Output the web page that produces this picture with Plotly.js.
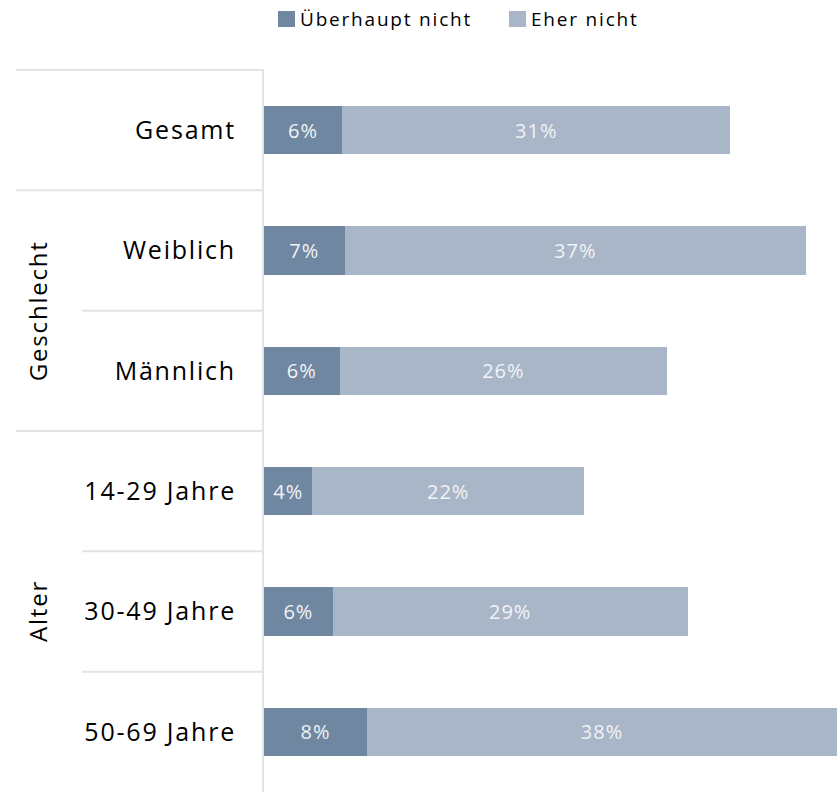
<!DOCTYPE html>
<html>
<head>
<meta charset="utf-8">
<script src="https://cdn.plot.ly/plotly-3.0.1.min.js"></script>
<style>
  html, body { margin: 0; padding: 0; background: #ffffff; }
  #chart { width: 837px; height: 792px; }
  text { letter-spacing: 1.8px; }
  text.bartext { letter-spacing: 1px; }
</style>
</head>
<body>
<div id="chart"></div>
<script>
// ---- data ----
var categories = ['Gesamt', 'Weiblich', 'Männlich', '14-29 Jahre', '30-49 Jahre', '50-69 Jahre'];
var seriesNames = ['Überhaupt nicht', 'Eher nicht'];
var ueberhauptNicht = [6.3, 6.5, 6.1, 3.9, 5.55, 8.3];
var eherNicht = [31.3, 37.2, 26.4, 21.9, 28.6, 37.9];
var groupNames = ['Geschlecht', 'Alter'];
var groupRows = [[1, 2], [3, 5]];          // first and last category index of each group
var mainSeparators = [0, 1, 3];            // row boundaries that span the full label column
var subSeparators = [2, 4, 5];             // row boundaries inside a group

// ---- style ----
var colors = ['#6f87a0', '#a8b6c7'];
var W = 837, H = 792;
var L = 264, R = 0, T = 70, B = 0;
var pw = W - L - R, ph = H - T - B;
function px2x(p) { return (p - L) / pw; }
function py2y(p) { return 1 - (p - T) / ph; }

var font = 'Open Sans, Liberation Sans, sans-serif';
var totalMax = Math.max.apply(null, ueberhauptNicht.map(function (v, i) { return v + eherNicht[i]; }));

var traces = [ueberhauptNicht, eherNicht].map(function (vals, k) {
  return {
    type: 'bar',
    orientation: 'h',
    name: seriesNames[k],
    y: categories,
    x: vals,
    marker: { color: colors[k], line: { width: 0 } },
    width: 0.4,
    texttemplate: '%{x:.0f}%',
    textposition: 'inside',
    insidetextanchor: 'middle',
    constraintext: 'none',
    textfont: { family: font, size: 20, color: '#f1f3f6' },
    hoverinfo: 'skip',
    showlegend: false
  };
});

var nRows = categories.length;
var shapes = [];
mainSeparators.forEach(function (k) {
  shapes.push({ type: 'line', xref: 'paper', yref: 'paper',
    x0: px2x(16), x1: 0, y0: 1 - k / nRows, y1: 1 - k / nRows,
    line: { color: '#e3e3e3', width: 2 } });
});
subSeparators.forEach(function (k) {
  shapes.push({ type: 'line', xref: 'paper', yref: 'paper',
    x0: px2x(82), x1: 0, y0: 1 - k / nRows, y1: 1 - k / nRows,
    line: { color: '#e3e3e3', width: 2 } });
});

var annotations = [];
groupNames.forEach(function (g, i) {
  var a = groupRows[i][0], b = groupRows[i][1];
  var yc = 1 - ((a + b + 1) / 2) / nRows;
  annotations.push({ xref: 'paper', yref: 'paper', x: px2x(37.5), y: yc,
    text: g, showarrow: false, textangle: -90, xanchor: 'center', yanchor: 'middle',
    font: { family: font, size: 24, color: '#000000' } });
});

// custom legend (larger squares, as in the reference)
var legendSquares = [278, 509];
var legendText = [298, 529];
seriesNames.forEach(function (n, k) {
  shapes.push({ type: 'rect', xref: 'paper', yref: 'paper',
    x0: px2x(legendSquares[k]), x1: px2x(legendSquares[k] + 17),
    y0: py2y(27), y1: py2y(11),
    fillcolor: colors[k], line: { width: 0 } });
  annotations.push({ xref: 'paper', yref: 'paper', x: px2x(legendText[k]), y: py2y(19),
    text: n, showarrow: false, xanchor: 'left', yanchor: 'middle',
    font: { family: font, size: 19, color: '#000000' } });
});

var layout = {
  width: W, height: H,
  margin: { l: L, r: R, t: T, b: B, pad: 0 },
  paper_bgcolor: '#ffffff',
  plot_bgcolor: '#ffffff',
  barmode: 'stack',
  showlegend: false,
  font: { family: font, color: '#000000' },
  xaxis: {
    range: [0, totalMax],
    visible: false,
    showgrid: false,
    zeroline: false,
    fixedrange: true
  },
  yaxis: {
    type: 'category',
    categoryorder: 'array',
    categoryarray: categories,
    autorange: 'reversed',
    showgrid: false,
    zeroline: false,
    showline: true,
    linecolor: '#e3e3e3',
    linewidth: 2,
    ticks: '',
    ticklabelstandoff: 21,
    tickfont: { family: font, size: 25, color: '#000000' },
    automargin: false,
    fixedrange: true
  },
  shapes: shapes,
  annotations: annotations
};

Plotly.newPlot('chart', traces, layout, { displayModeBar: false, staticPlot: true });
</script>
</body>
</html>
